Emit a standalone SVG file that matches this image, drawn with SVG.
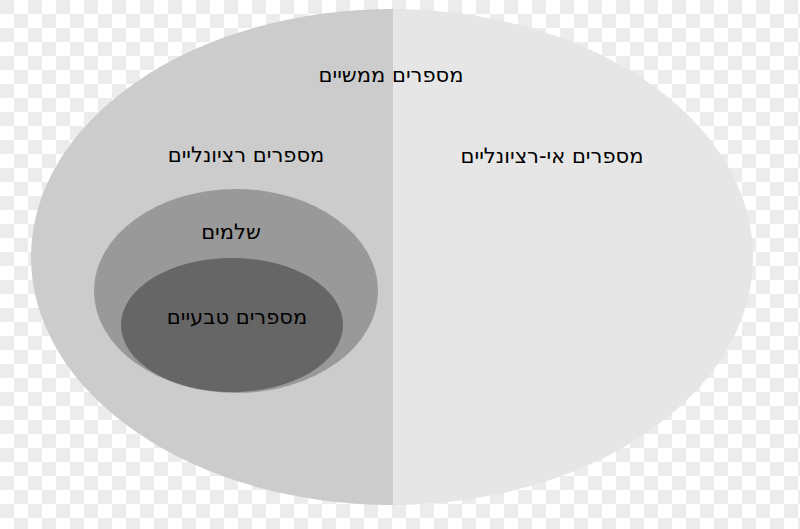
<svg xmlns="http://www.w3.org/2000/svg" width="800" height="529" viewBox="0 0 800 529">
<defs>
<pattern id="chk" width="28" height="28" patternUnits="userSpaceOnUse">
<rect width="28" height="28" fill="#ffffff"/>
<rect x="0" y="0" width="14" height="14" fill="#ececec"/>
<rect x="14" y="14" width="14" height="14" fill="#ececec"/>
</pattern>
<clipPath id="outer"><ellipse cx="392" cy="257" rx="361" ry="248"/></clipPath>
</defs>
<style>
text{font-family:"DejaVu Sans","Noto Sans",sans-serif;font-size:21px;fill:#000;text-anchor:middle}
</style>
<rect width="800" height="529" fill="url(#chk)"/>
<g id="reals">
<g clip-path="url(#outer)">
<rect x="0" y="0" width="393" height="529" fill="#cccccc"/>
<rect x="393" y="0" width="407" height="529" fill="#e6e6e6"/>
</g>
<text x="391" y="82">מספרים ממשיים</text>
</g>
<g id="rationals">
<text x="246" y="162">מספרים רציונליים</text>
</g>
<g id="irrationals">
<text x="552" y="163">מספרים אי-רציונליים</text>
</g>
<g id="integers">
<ellipse cx="236" cy="291" rx="142" ry="102" fill="#999999"/>
<text x="231" y="239">שלמים</text>
</g>
<g id="naturals">
<ellipse cx="232" cy="325" rx="111" ry="67" fill="#666666"/>
<text x="237" y="324">מספרים טבעיים</text>
</g>
<g id="connectors"/>
</svg>
